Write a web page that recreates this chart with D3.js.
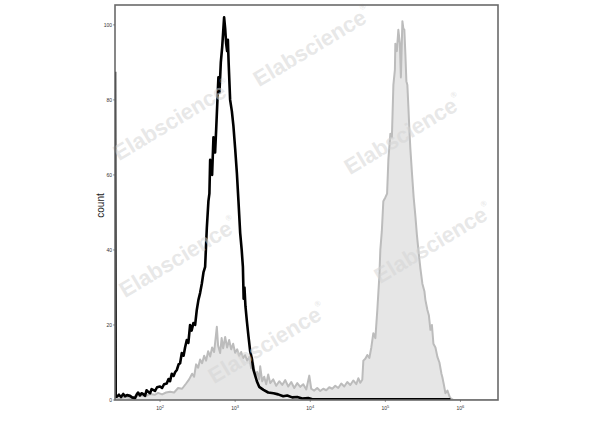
<!DOCTYPE html>
<html><head><meta charset="utf-8">
<script src="https://cdn.jsdelivr.net/npm/d3@7"></script>
<style>html,body{margin:0;padding:0;background:#fff;}svg{display:block;}</style>
</head><body>
<svg id="chart" width="600" height="427"></svg>
<script>
// ---- data (x as log10 intensity, y as count) ----
const blackExp = [1.400,1.409,1.427,1.453,1.48,1.51,1.533,1.56,1.6,1.627,1.667,1.687,1.707,1.733,1.753,1.773,1.8,1.82,1.84,1.867,1.887,1.907,1.933,1.96,2.0,2.027,2.053,2.089,2.113,2.133,2.156,2.18,2.2,2.223,2.247,2.267,2.289,2.313,2.333,2.356,2.377,2.4,2.42,2.444,2.467,2.489,2.511,2.533,2.556,2.578,2.6,2.623,2.644,2.657,2.667,2.68,2.693,2.711,2.724,2.733,2.747,2.764,2.777,2.791,2.809,2.827,2.84,2.853,2.867,2.88,2.893,2.903,2.913,2.933,2.956,2.977,3.0,3.023,3.044,3.067,3.087,3.103,3.113,3.124,3.137,3.156,3.177,3.2,3.223,3.244,3.267,3.289,3.32,3.377,3.44,3.511,3.573,3.64,3.693,3.76,3.827,3.893,3.973,4.027,5.867];
const blackCount = [87.5,0.9,0.9,1.4,0.8,1.6,1.0,1.3,1.1,0.7,0.5,1.4,2.0,1.2,1.8,1.6,1.1,2.6,2.2,1.8,2.9,2.7,2.4,3.4,3.6,3.2,4.2,4.4,5.6,5.0,7.0,6.4,7.4,8.0,9.5,9.8,12.5,11.8,14.0,16.0,15.2,20.0,18.5,20.5,20.0,24.0,26.7,28.5,31.0,34.0,35.5,46,53,55,64,62,60,70,69,66,72,80,86,82,90,94,98,102,99,95,93,96,90,80,77,73,67,60.5,53,44.5,40,35.5,27,30,25,21,17,13,11,8,6.5,5.0,3.5,2.7,2.0,1.8,1.5,1.0,1.2,0.7,0.8,0.4,0.5,0.2,0.2];

const grayExp = [1.400,1.41,1.467,1.533,1.6,1.667,1.733,1.8,1.867,1.933,1.973,2.027,2.08,2.133,2.187,2.24,2.293,2.347,2.387,2.427,2.453,2.48,2.507,2.533,2.56,2.587,2.613,2.64,2.667,2.693,2.72,2.756,2.773,2.8,2.82,2.84,2.867,2.893,2.92,2.947,2.973,3.0,3.027,3.053,3.08,3.107,3.133,3.16,3.187,3.213,3.24,3.267,3.293,3.32,3.333,3.36,3.387,3.413,3.44,3.467,3.507,3.547,3.587,3.627,3.667,3.707,3.747,3.787,3.827,3.867,3.907,3.947,3.987,4.013,4.053,4.093,4.133,4.173,4.213,4.253,4.293,4.333,4.373,4.413,4.453,4.493,4.533,4.573,4.613,4.64,4.667,4.693,4.707,4.733,4.76,4.787,4.813,4.84,4.867,4.893,4.92,4.933,4.953,4.973,5.0,5.023,5.04,5.067,5.087,5.107,5.127,5.133,5.153,5.173,5.193,5.207,5.227,5.24,5.253,5.267,5.28,5.293,5.307,5.32,5.333,5.356,5.377,5.4,5.42,5.44,5.467,5.493,5.52,5.533,5.56,5.58,5.6,5.62,5.64,5.667,5.693,5.72,5.747,5.76,5.78,5.8,5.827,5.853,5.867,5.907,6.5];
const grayCount = [29,0.5,0.4,0.8,0.5,0.9,1.3,1.0,1.6,1.4,1.9,1.5,2.0,2.2,2.0,3.2,3.0,4.4,5.5,7.0,6.2,9.5,8.6,10.8,9.8,11.8,10.5,13.0,11.6,14.0,12.8,19.5,14.5,12.5,16.5,13.8,16.8,14.0,16.0,13.5,15.0,12.6,13.5,11.8,12.8,11.2,12.0,10.5,11.5,8.5,9.8,6.5,7.5,5.5,9.0,5.0,6.2,4.2,6.8,4.5,5.5,3.8,5.0,4.0,5.3,3.6,4.8,3.2,4.5,3.5,4.2,2.8,6.5,3.0,2.5,3.2,2.4,3.0,2.6,3.4,3.0,3.8,3.2,4.4,3.6,4.8,4.0,5.2,4.2,5.8,4.6,5.4,10.5,11.0,12.0,11.2,14.0,17.8,16.5,24,33,40,45,53,54,55,64,71,70,84,88,95,93,98.7,95,86,101,99,98.7,92,85,84,78,72,67,60,54,49,44,40,35,31,29,26.7,24,22.5,18.7,20,15,14,11.5,10,7,6,4,1.8,2.5,1.0,0.5,0,0];

const yTicks = [0,20,40,60,80,100];
const xTickExps = [2,3,4,5,6];
const yLabel = "count";
const watermark = "Elabscience";

// ---- layout ----
const L = 115, R = 498, T = 5, B = 400;
const svg = d3.select("#chart");
const x = d3.scaleLog().domain([Math.pow(10,1.4), Math.pow(10,6.5)]).range([L, R]);
const y = d3.scaleLinear().domain([0, 105.3]).range([B, T]);

const black = blackExp.map((e,i)=>({v:Math.pow(10,e), c:blackCount[i]}));
const gray = grayExp.map((e,i)=>({v:Math.pow(10,e), c:grayCount[i]}));

svg.append("defs").append("clipPath").attr("id","clip")
  .append("rect").attr("x",L).attr("y",T).attr("width",R-L).attr("height",B-T);

const g = svg.append("g").attr("clip-path","url(#clip)");

// watermarks
const wm = [[312,46],[172,120],[403,134],[178,257],[267,343],[433,243]];
const wg = svg.append("g");
wm.forEach(([cx,cy])=>{
  const t = wg.append("text")
    .attr("transform",`translate(${cx},${cy}) rotate(-31)`)
    .attr("text-anchor","middle").attr("dominant-baseline","central")
    .attr("font-family","Liberation Sans, Arial, sans-serif")
    .attr("font-weight","bold").attr("font-size",22)
    .attr("fill","#d4d4d4").attr("fill-opacity",0.55);
  t.append("tspan").text(watermark);
  t.append("tspan").attr("font-size",8).attr("dy",-8).text("®");
});

const area = d3.area().x(d=>x(d.v)).y0(y(0)).y1(d=>y(d.c));
const line = d3.line().x(d=>x(d.v)).y(d=>y(d.c));

g.append("path").datum(gray).attr("d",area).attr("fill","#e3e3e3").attr("fill-opacity",0.9);
g.append("path").datum(gray).attr("d",line).attr("fill","none").attr("stroke","#bcbcbc").attr("stroke-width",2).attr("stroke-linejoin","round");
g.append("path").datum(black).attr("d",line).attr("fill","none").attr("stroke","#000").attr("stroke-width",2.6).attr("stroke-linejoin","round");

// frame
svg.append("rect").attr("x",L).attr("y",T).attr("width",R-L).attr("height",B-T)
  .attr("fill","none").attr("stroke","#6a6a6a").attr("stroke-width",1.6);

// y ticks
const yt = svg.append("g").attr("font-family","Liberation Sans, Arial, sans-serif").attr("font-size",5).attr("fill","#333");
yTicks.forEach(t=>{
  yt.append("line").attr("x1",L-2).attr("x2",L).attr("y1",y(t)).attr("y2",y(t)).attr("stroke","#555").attr("stroke-width",0.6);
  yt.append("text").attr("x",L-3).attr("y",y(t)).attr("dy","0.35em").attr("text-anchor","end").text(t);
});

// x ticks
const xt = svg.append("g").attr("font-family","Liberation Sans, Arial, sans-serif").attr("font-size",5).attr("fill","#333");
xTickExps.forEach(e=>{
  const px = x(Math.pow(10,e));
  xt.append("line").attr("x1",px).attr("x2",px).attr("y1",B).attr("y2",B+2).attr("stroke","#555").attr("stroke-width",0.6);
  const t = xt.append("text").attr("x",px).attr("y",B+10).attr("text-anchor","middle");
  t.append("tspan").text("10");
  t.append("tspan").attr("dy",-2.5).attr("font-size",4).text(e);
});

// y label
svg.append("text").attr("transform",`translate(104,${(T+B)/2+3}) rotate(-90)`)
  .attr("text-anchor","middle").attr("font-family","Liberation Sans, Arial, sans-serif")
  .attr("font-size",10).attr("fill","#222").text(yLabel);
</script>
</body></html>
